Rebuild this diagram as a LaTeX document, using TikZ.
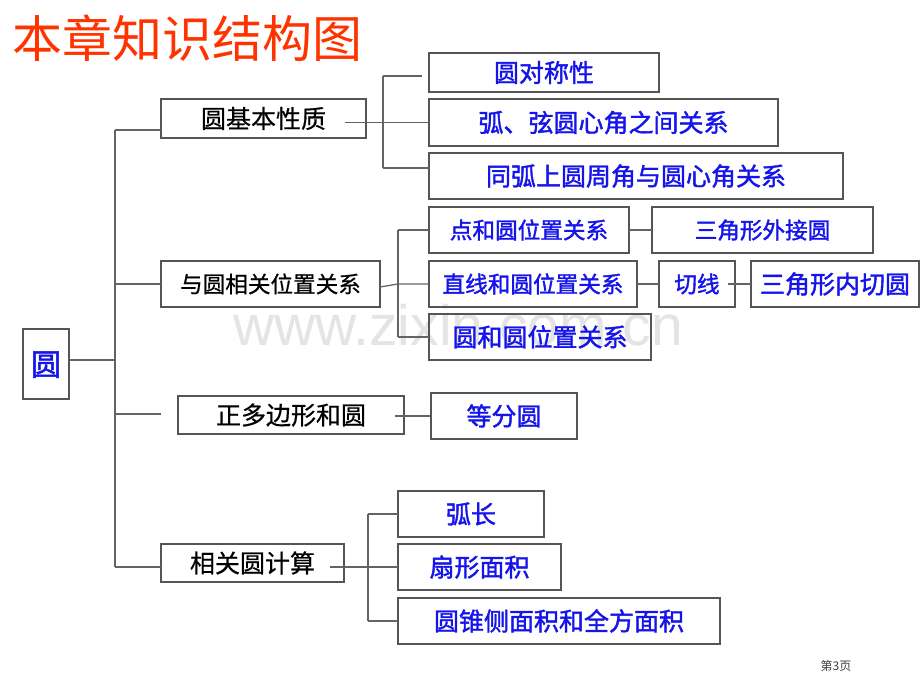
\documentclass[tikz,border=0pt]{standalone}
\usepackage{fontspec}
\newfontfamily\cjk{Noto Sans CJK SC}
\newfontfamily\cjkk[FakeBold=0.6]{Noto Sans CJK SC}
\newfontfamily\cjkb[FakeBold=1.6]{Noto Sans CJK SC}
\newfontfamily\wmfont{Liberation Sans}
\definecolor{titlered}{RGB}{255,51,0}
\definecolor{nodeblue}{RGB}{20,20,235}
\definecolor{linegray}{RGB}{100,100,100}
\definecolor{boxgray}{RGB}{85,85,85}
\definecolor{wmgray}{RGB}{228,228,228}
\begin{document}
\begin{tikzpicture}[x=1pt,y=-1pt,
  bx/.style={draw=boxgray, line width=1.3pt, inner sep=0pt, outer sep=0pt},
  bk25/.style={bx, text=black, font=\cjkk\fontsize{25pt}{30pt}\selectfont, text height=22pt, text depth=3pt},
  bk23/.style={bx, text=black, font=\cjkk\fontsize{22.6pt}{27pt}\selectfont, text height=19.9pt, text depth=2.7pt},
  bl25/.style={bx, text=nodeblue, font=\cjkb\fontsize{25pt}{30pt}\selectfont, text height=22pt, text depth=3pt},
  bl23/.style={bx, text=nodeblue, font=\cjkb\fontsize{22.6pt}{27pt}\selectfont, text height=19.9pt, text depth=2.7pt},
  ln/.style={draw=linegray, line width=1.3pt}]
\useasboundingbox (0,0) rectangle (920,690);
\fill[white] (0,0) rectangle (920,690);
% watermark
\node[font=\wmfont\fontsize{57pt}{60pt}\selectfont, text=wmgray, anchor=base west, inner sep=0pt] (wm) at (233,345) {www.zixin.com.cn};
% title
\node[font=\cjk\fontsize{50pt}{60pt}\selectfont, text=titlered, inner sep=0pt, text height=44pt, text depth=6pt] (title) at (187.5,38.5) {本章知识结构图};
% nodes
\node[bx, text=nodeblue, font=\cjkb\fontsize{30pt}{36pt}\selectfont, text height=26.4pt, text depth=3.6pt, minimum width=46pt, minimum height=70pt] (root) at (46,364) {圆};
\node[bk25, minimum width=205pt, minimum height=39pt] (a1) at (263.5,118.5) {圆基本性质};
\node[bl25, minimum width=230pt, minimum height=39pt] (b1) at (544,72.5) {圆对称性};
\node[bl25, minimum width=349pt, minimum height=47pt] (b2) at (603.5,122.5) {弧、弦圆心角之间关系};
\node[bl25, minimum width=414pt, minimum height=46pt] (b3) at (636,176) {同弧上圆周角与圆心角关系};
\node[bk23, minimum width=219pt, minimum height=46pt] (a2) at (270.5,284) {与圆相关位置关系};
\node[bl23, minimum width=200pt, minimum height=46pt] (c1) at (529,230) {点和圆位置关系};
\node[bl23, minimum width=221pt, minimum height=46pt] (c1b) at (762.5,230) {三角形外接圆};
\node[bl23, minimum width=208pt, minimum height=46pt] (c2) at (533,284) {直线和圆位置关系};
\node[bl23, minimum width=76pt, minimum height=46pt] (c2b) at (697,284) {切线};
\node[bl25, minimum width=168pt, minimum height=46pt] (c2c) at (835,284) {三角形内切圆};
\node[bl25, minimum width=222pt, minimum height=46pt] (c3) at (540,337) {圆和圆位置关系};
\node[bk25, minimum width=226pt, minimum height=38pt] (a3) at (291,415) {正多边形和圆};
\node[bl25, minimum width=146pt, minimum height=46pt] (d1) at (504,416) {等分圆};
\node[bk25, minimum width=183pt, minimum height=38pt] (a4) at (252.5,563) {相关圆计算};
\node[bl25, minimum width=146pt, minimum height=46pt] (e1) at (471,514) {弧长};
\node[bl25, minimum width=163pt, minimum height=46pt] (e2) at (479.5,567) {扇形面积};
\node[bl25, minimum width=322pt, minimum height=46pt] (e3) at (559,621) {圆锥侧面积和全方面积};
% page number
\node[font=\cjk\fontsize{12pt}{14pt}\selectfont, text=black!75, inner sep=0pt] (pg) at (836,666) {第3页};
% coordinates
\coordinate (T1) at (115,130);
\coordinate (T4) at (115,567);
\coordinate (A3s) at (161,414);
\coordinate (B1) at (383,76);
\coordinate (B1e) at (422,76);
\coordinate (B3) at (383,168);
\coordinate (C1) at (398,230);
\coordinate (C3) at (398,337);
\coordinate (E1) at (368,514);
\coordinate (E3) at (368,621);
% trunk
\draw[ln] ([yshift=4pt]root.east) -- ([yshift=4pt]root.east -| T1);
\draw[ln] (T1) -- (T4);
\draw[ln] (T1) -- (T1 -| a1.west);
\draw[ln] (a2.west -| T1) -- (a2.west);
\draw[ln] (T1 |- A3s) -- (A3s);
\draw[ln] (T4) -- (T4 -| a4.west);
% group 1
\draw[ln] ([xshift=-21pt]a1.east |- b2.west) -- (b2.west);
\draw[ln] (B1) -- (B3);
\draw[ln] (B1) -- (B1e);
\draw[ln] (B3) -- (B3 -| b3.west);
% group 2
\draw[ln] ([yshift=-3pt]a2.east) -- (C1 |- c2.west) -- (c2.west);
\draw[ln] (C1) -- (C3);
\draw[ln] (C1) -- (c1.west);
\draw[ln] (C3) -- (c3.west);
\draw[ln] (c1.east) -- (c1b.west);
\draw[ln] (c2.east) -- (c2b.west);
\draw[ln] ([xshift=-7pt]c2b.east) -- (c2c.west);
% group 3
\draw[ln] ([xshift=-9pt]a3.east |- d1.west) -- (d1.west);
% group 4
\draw[ln] ([xshift=-14pt]a4.east |- e2.west) -- (e2.west);
\draw[ln] (E1) -- (E3);
\draw[ln] (E1) -- (e1.west);
\draw[ln] (E3) -- (e3.west);
\end{tikzpicture}
\end{document}
